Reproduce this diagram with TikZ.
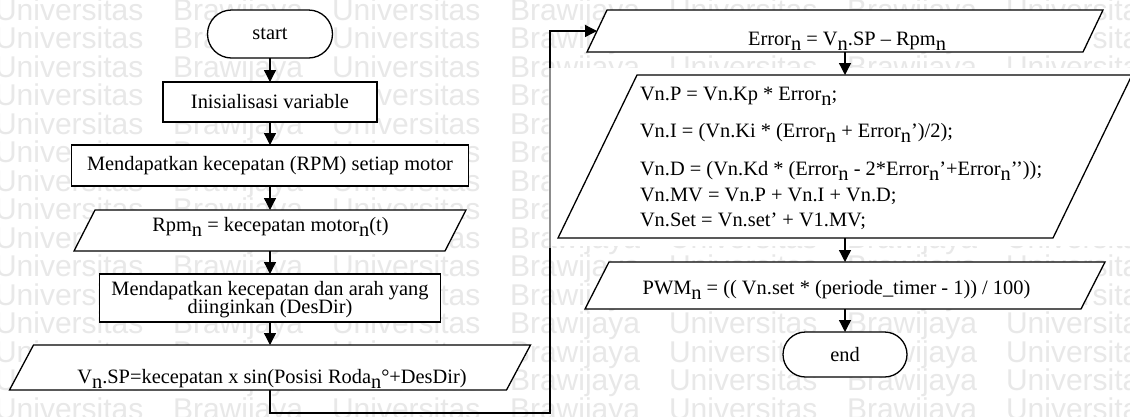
\documentclass[tikz,border=0pt]{standalone}
\usepackage{fontspec}
\setmainfont{Liberation Serif}
\newfontfamily\wmfont{Liberation Sans}
\usetikzlibrary{arrows.meta,shapes.misc,calc}

% subscript "n" as set in the flowchart: full size, lowered
\newcommand{\sbn}{\raisebox{-0.28em}{n}}
% outline of a right-leaning parallelogram inside an invisible frame node
\newcommand{\pgramdraw}[2]{%
  \draw[shapeline] ([xshift=#2]#1.north west) -- (#1.north east)
    -- ([xshift=-#2]#1.south east) -- (#1.south west) -- cycle;}

\tikzset{
  every node/.style={font=\fontsize{20.4}{18}\selectfont, inner sep=0pt, outer sep=0pt},
  shapeline/.style={line width=1.3pt, draw=black, fill=white},
  procbox/.style={shapeline, rectangle},
  term/.style={shapeline, rounded rectangle},
  frame/.style={rectangle, draw=none},
  flow/.style={line width=1.3pt, -{Triangle[width=12pt,length=12pt]}},
  basetext/.style={anchor=base},
  leftline/.style={anchor=base west},
  wmtext/.style={font=\wmfont\fontsize{30}{30}\selectfont, text=black!9, anchor=base west},
}

\begin{document}
\begin{tikzpicture}[x=1pt,y=-1pt]
\useasboundingbox (0,0) rectangle (1130,416);
\fill[white] (0,0) rectangle (1130,416);

% repeated background lettering
\foreach \yb [count=\r] in {20,48.5,...,420} {
  \foreach \xu [count=\c] in {-5,332,669,1006} {
    \node[wmtext] (wu-\r-\c) at (\xu,\yb) {Universitas};
    \node[wmtext] (wb-\r-\c) at (\xu+178,\yb) {Brawijaya};
  }
}

% frames of the parallelograms (outlines are drawn further down)
\node[frame, minimum width=392pt, minimum height=41pt] (rpmio) at (270,230.5) {};
\node[frame, minimum width=521pt, minimum height=45pt] (spio) at (270,367.5) {};
\node[frame, minimum width=516pt, minimum height=42pt] (errio) at (845,31) {};
\node[frame, minimum width=574pt, minimum height=163pt] (pidio) at (845,156.5) {};
\node[frame, minimum width=520pt, minimum height=47pt] (pwmio) at (845,285.5) {};

% long connector from the left column to the right column
\coordinate (jog) at (550,413);
\coordinate (errin) at ($(errio.south west)!0.5!([xshift=20pt]errio.north west)$);
\draw[flow] (spio.south) |- (jog) |- (errin);

% white panel behind the PID block
\fill[white] (551,68) rectangle (1132,246);
\fill[white, opacity=0.55] (548,68) rectangle (552,248);

% left column
\node[term, minimum width=125pt, minimum height=48pt] (start) at (270,34) {start};
\node[procbox, minimum width=214pt, minimum height=40pt] (init) at (270,102) {Inisialisasi variable};
\node[procbox, minimum width=397pt, minimum height=41pt] (getrpm) at (270,165.5) {Mendapatkan kecepatan (RPM) setiap motor};
\pgramdraw{rpmio}{21}
\node[basetext] (rpmtxt) at (270.5,231) {Rpm\sbn{} = kecepatan motor\sbn(t)};
\node[procbox, minimum width=341pt, minimum height=48pt] (desdir) at (270,298) {};
\node[basetext] (desdir1) at (270,295) {Mendapatkan kecepatan dan arah yang};
\node[basetext] (desdir2) at (270,313) {diinginkan (DesDir)};
\pgramdraw{spio}{24}
\node[basetext] (sptxt) at (272,383) {V\sbn.SP=kecepatan x sin(Posisi Roda\sbn°+DesDir)};

\draw[flow] (start.south) -- (init.north);
\draw[flow] (init.south) -- (getrpm.north);
\draw[flow] (getrpm.south) -- (rpmio.north);
\draw[flow] (rpmio.south) -- (desdir.north);
\draw[flow] (desdir.south) -- (spio.north);

% right column
\pgramdraw{errio}{20}
\node[basetext] (errtxt) at (847,45) {Error\sbn{} = V\sbn.SP – Rpm\sbn};
\pgramdraw{pidio}{79}
\node[leftline] (pid1) at (640,100) {Vn.P = Vn.Kp * Error\sbn;};
\node[leftline] (pid2) at (640,137) {Vn.I = (Vn.Ki * (Error\sbn{} + Error\sbn’)/2);};
\node[leftline] (pid3) at (640,175) {Vn.D = (Vn.Kd * (Error\sbn{} - 2*Error\sbn’+Error\sbn’’));};
\node[leftline] (pid4) at (640,201) {Vn.MV = Vn.P + Vn.I + Vn.D;};
\node[leftline] (pid5) at (640,226) {Vn.Set = Vn.set’ + V1.MV;};
\pgramdraw{pwmio}{24}
\node[basetext] (pwmtxt) at (836.5,294) {PWM\sbn{} = (( Vn.set * (periode\_timer - 1)) / 100)};
\node[term, minimum width=124pt, minimum height=45pt] (end) at (845,354.5) {end};

\draw[flow] (errio.south) -- (pidio.north);
\draw[flow] (pidio.south) -- (pwmio.north);
\draw[flow] (pwmio.south) -- (end.north);
\end{tikzpicture}
\end{document}
